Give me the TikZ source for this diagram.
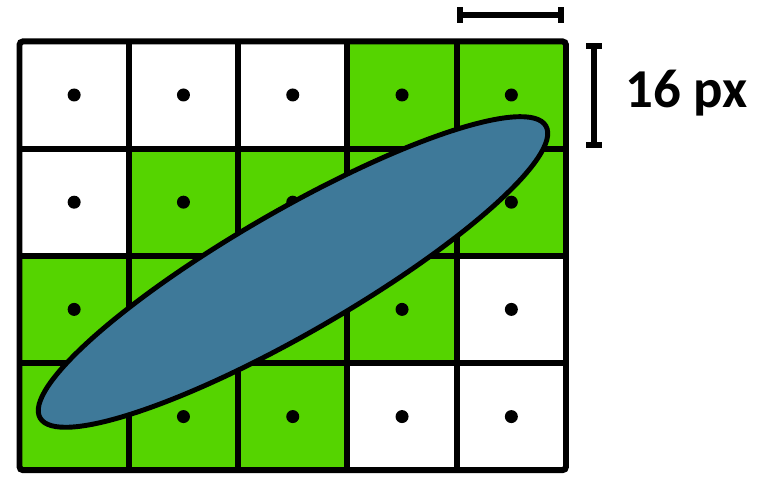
\documentclass[tikz,border=0pt]{standalone}
\usepackage{fontspec}
\setmainfont{Carlito}
\usetikzlibrary{arrows.meta}
\definecolor{cellgreen}{RGB}{85,212,0}
\definecolor{ellblue}{RGB}{62,121,153}

\begin{document}
\begin{tikzpicture}
        \useasboundingbox (0,0) rectangle (7.67,4.77);

        % grille de pixels
        \begin{scope}[shift={(0.195,0.068)}, x=1.093cm, y=1.072cm]
            \foreach \i/\j in {0/0,1/0,2/0,0/1,1/1,2/1,3/1,1/2,2/2,3/2,4/2,3/3,4/3}
                \fill[cellgreen] (\i,\j) rectangle ++(1,1);
            \foreach \i in {0,...,4}
                \foreach \j in {0,...,3}
                    \fill (\i+0.5,\j+0.5) circle (1.85pt);
            \foreach \i in {1,...,4}
                \draw[line width=1.7pt] (\i,0) -- (\i,4);
            \foreach \j in {1,...,3}
                \draw[line width=1.7pt] (0,\j) -- (5,\j);
            \draw[line width=1.7pt, rounded corners=1pt] (0,0) rectangle (5,4);
        \end{scope}

        % ellipse
        \coordinate (centre) at (2.93,2.05);
        \filldraw[fill=ellblue, line width=1.4pt, rotate around={30:(centre)}]
            (centre) ellipse (2.92 and 0.61);

        % echelle
        \coordinate (hA) at (4.57,4.62);
        \coordinate (hB) at (5.64,4.62);
        \coordinate (vA) at (5.94,4.34);
        \coordinate (vB) at (5.94,3.29);
        \draw[{Bar[width=4.4pt]}-{Bar[width=4.4pt]}, line width=1.6pt] (hA) -- (hB);
        \draw[{Bar[width=4.4pt]}-{Bar[width=4.4pt]}, line width=1.6pt] (vA) -- (vB);

        \node[font=\bfseries\fontsize{15.6}{18}\selectfont, anchor=base west, inner sep=0pt]
            (taille) at (6.25,3.69) {16 px};
    \end{tikzpicture}
\end{document}
